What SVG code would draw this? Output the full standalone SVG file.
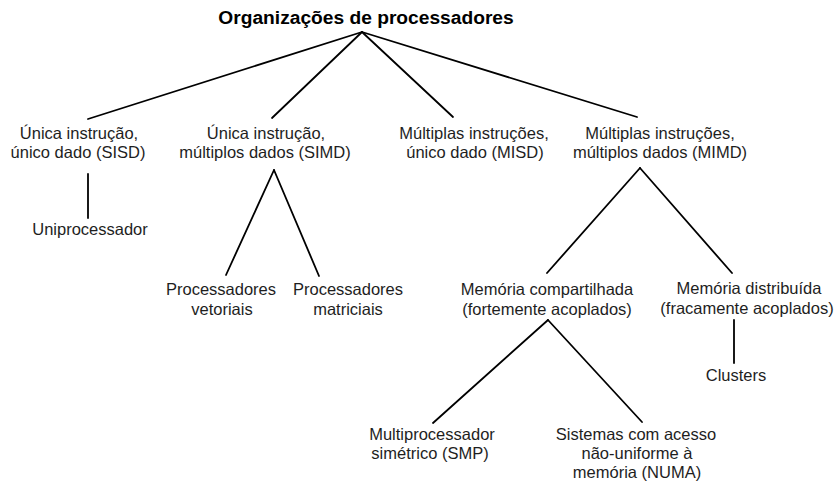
<svg xmlns="http://www.w3.org/2000/svg" width="835" height="481" viewBox="0 0 835 481">
<style>
text{font-family:"Liberation Sans",Arial,sans-serif;font-size:16.5px;fill:#1e1e1e;text-anchor:middle}
.title{font-size:19.2px;font-weight:bold;fill:#000}
.c line{stroke:#000;stroke-width:1.8;stroke-linecap:round}
</style>
<rect width="835" height="481" fill="#fff"/>
<g class="c" id="connectors">
<line x1="362" y1="32" x2="88" y2="119"/>
<line x1="362" y1="32" x2="272" y2="118"/>
<line x1="362" y1="32" x2="453" y2="117"/>
<line x1="362" y1="32" x2="637" y2="117"/>
<line x1="88" y1="174" x2="88" y2="218"/>
<line x1="274" y1="170" x2="226" y2="275"/>
<line x1="274" y1="170" x2="319" y2="276"/>
<line x1="640" y1="168" x2="547" y2="273"/>
<line x1="640" y1="168" x2="732" y2="273"/>
<line x1="734" y1="320" x2="734" y2="363"/>
<line x1="548" y1="320" x2="433" y2="423"/>
<line x1="548" y1="320" x2="642" y2="422"/>
</g>
<g id="root"><text class="title" x="366" y="24">Organizações de processadores</text></g>
<g id="sisd"><text x="79" y="139">Única instrução,</text><text x="78" y="158">único dado (SISD)</text></g>
<g id="simd"><text x="266" y="139">Única instrução,</text><text x="265" y="158">múltiplos dados (SIMD)</text></g>
<g id="misd"><text x="474" y="139">Múltiplas instruções,</text><text x="475" y="158">único dado (MISD)</text></g>
<g id="mimd"><text x="660" y="139">Múltiplas instruções,</text><text x="660" y="158">múltiplos dados (MIMD)</text></g>
<g id="uniproc"><text x="90" y="235">Uniprocessador</text></g>
<g id="vetoriais"><text x="221" y="295">Processadores</text><text x="222" y="315">vetoriais</text></g>
<g id="matriciais"><text x="348" y="295">Processadores</text><text x="348" y="315">matriciais</text></g>
<g id="compartilhada"><text x="547" y="295">Memória compartilhada</text><text x="547" y="315">(fortemente acoplados)</text></g>
<g id="distribuida"><text x="749" y="294">Memória distribuída</text><text x="747" y="314">(fracamente acoplados)</text></g>
<g id="clusters"><text x="736" y="381">Clusters</text></g>
<g id="smp"><text x="432" y="440">Multiprocessador</text><text x="430" y="459">simétrico (SMP)</text></g>
<g id="numa"><text x="636" y="440">Sistemas com acesso</text><text x="637" y="459">não-uniforme à</text><text x="637" y="478">memória (NUMA)</text></g>
</svg>
